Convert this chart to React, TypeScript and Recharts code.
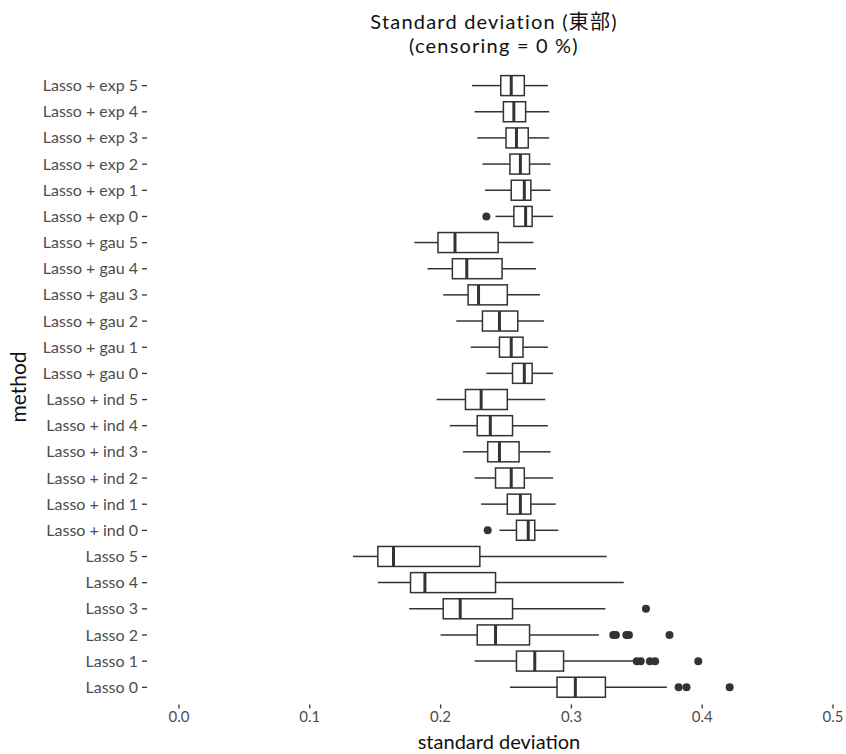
import { ComposedChart, Bar, Scatter, XAxis, YAxis } from 'recharts'

const methods = [
  'Lasso + exp 5', 'Lasso + exp 4', 'Lasso + exp 3', 'Lasso + exp 2', 'Lasso + exp 1', 'Lasso + exp 0',
  'Lasso + gau 5', 'Lasso + gau 4', 'Lasso + gau 3', 'Lasso + gau 2', 'Lasso + gau 1', 'Lasso + gau 0',
  'Lasso + ind 5', 'Lasso + ind 4', 'Lasso + ind 3', 'Lasso + ind 2', 'Lasso + ind 1', 'Lasso + ind 0',
  'Lasso 5', 'Lasso 4', 'Lasso 3', 'Lasso 2', 'Lasso 1', 'Lasso 0',
]

const lows = [
  0.224, 0.226, 0.228, 0.232, 0.234, 0.242,
  0.180, 0.190, 0.202, 0.212, 0.223, 0.235,
  0.197, 0.207, 0.217, 0.226, 0.231, 0.245,
  0.133, 0.152, 0.176, 0.200, 0.226, 0.253,
]
const q1s = [
  0.246, 0.248, 0.250, 0.253, 0.254, 0.256,
  0.198, 0.209, 0.221, 0.232, 0.245, 0.255,
  0.219, 0.228, 0.236, 0.242, 0.251, 0.258,
  0.152, 0.177, 0.202, 0.228, 0.258, 0.289,
]
const medians = [
  0.254, 0.256, 0.258, 0.261, 0.264, 0.265,
  0.211, 0.220, 0.229, 0.245, 0.254, 0.264,
  0.231, 0.238, 0.245, 0.254, 0.261, 0.267,
  0.164, 0.188, 0.215, 0.242, 0.272, 0.303,
]
const q3s = [
  0.264, 0.265, 0.267, 0.268, 0.269, 0.270,
  0.244, 0.247, 0.251, 0.259, 0.263, 0.270,
  0.251, 0.255, 0.260, 0.264, 0.269, 0.272,
  0.230, 0.242, 0.255, 0.268, 0.294, 0.326,
]
const highs = [
  0.282, 0.283, 0.283, 0.284, 0.284, 0.286,
  0.271, 0.273, 0.276, 0.279, 0.282, 0.286,
  0.280, 0.282, 0.284, 0.286, 0.288, 0.290,
  0.327, 0.340, 0.326, 0.321, 0.348, 0.373,
]
const outliers: number[][] = [
  [], [], [], [], [], [0.235],
  [], [], [], [], [], [],
  [], [], [], [], [], [0.236],
  [], [], [0.357], [0.332, 0.334, 0.342, 0.344, 0.375], [0.350, 0.353, 0.360, 0.364, 0.397], [0.382, 0.388, 0.421],
]
const xTicks = [0, 0.1, 0.2, 0.3, 0.4, 0.5]

const data = methods.map((method, i) => ({
  method,
  lo: lows[i],
  q1: q1s[i],
  med: medians[i],
  q3: q3s[i],
  hi: highs[i],
  out: outliers[i],
}))

const FONT = "Lato, 'Noto Sans CJK JP', sans-serif"
const INK = '#333333'

const BoxShape = (props: any) => {
  const { x, y, width, height, payload } = props
  if (!payload || !isFinite(x)) return <g />
  const { lo, hi, q1, med, q3 } = payload
  // map values with the bar's own pixel extent (lo -> x, hi -> x + width)
  const px = (v: number) => x + ((v - lo) / (hi - lo)) * width
  const cy = y + height / 2
  return (
    <g>
      <line x1={px(lo)} x2={px(q1)} y1={cy} y2={cy} stroke={INK} strokeWidth={1.5} />
      <line x1={px(q3)} x2={px(hi)} y1={cy} y2={cy} stroke={INK} strokeWidth={1.5} />
      <rect x={px(q1)} y={y} width={px(q3) - px(q1)} height={height} fill="#fff" stroke={INK} strokeWidth={1.5} />
      <line x1={px(med)} x2={px(med)} y1={y} y2={y + height} stroke={INK} strokeWidth={3} />
    </g>
  )
}

const Dot = (props: any) => {
  const { cx, cy } = props
  if (cx == null || cy == null || !isFinite(cx)) return <g />
  return <circle cx={cx} cy={cy} r={4} fill={INK} />
}

const YTick = (props: any) => {
  const { x, y, payload } = props
  return (
    <g>
      <text x={x - 33} y={y} dy={5.5} textAnchor="end" fill="#4d4d4d" fontSize={16} fontFamily={FONT}>
        {payload.value}
      </text>
      <line x1={x - 29} x2={x - 24} y1={y} y2={y} stroke={INK} strokeWidth={1.3} />
    </g>
  )
}

const XTick = (props: any) => {
  const { x, y, payload } = props
  return (
    <g>
      <line x1={x} x2={x} y1={y - 4} y2={y} stroke={INK} strokeWidth={1.3} />
      <text x={x} y={y} dy={14} textAnchor="middle" fill="#4d4d4d" fontSize={15} fontFamily={FONT}>
        {payload.value.toFixed(1)}
      </text>
    </g>
  )
}

const titleLine = { position: 'absolute' as const, left: 244, width: 500, textAlign: 'center' as const, fontSize: 20, lineHeight: '24px', letterSpacing: 1.2, color: '#111', whiteSpace: 'nowrap' as const }

export default function App() {
  return (
    <div style={{ position: 'absolute', left: 0, top: 0, width: 846, height: 754, background: '#fff', fontFamily: FONT }}>
      <div style={{ ...titleLine, top: 9 }}>Standard deviation (東部)</div>
      <div style={{ ...titleLine, top: 33 }}>(censoring = 0 %)</div>
      <div style={{ position: 'absolute', left: 18, top: 387, transform: 'translate(-50%, -50%) rotate(-90deg)', fontSize: 21, lineHeight: '24px', color: '#111', whiteSpace: 'nowrap' }}>
        method
      </div>
      <div style={{ position: 'absolute', left: 249, top: 729, width: 500, textAlign: 'center', fontSize: 20, lineHeight: '24px', color: '#111' }}>
        standard deviation
      </div>
      <ComposedChart
        width={846}
        height={754}
        data={data}
        layout="vertical"
        margin={{ top: 72.6, right: 13, bottom: 0, left: 0 }}
      >
        <XAxis
          type="number"
          domain={[0, 0.5]}
          ticks={xTicks}
          axisLine={false}
          tickLine={false}
          tickSize={6}
          tickMargin={2}
          tick={<XTick />}
          height={53.6}
          allowDataOverflow
        />
        <YAxis
          type="category"
          dataKey="method"
          width={179}
          axisLine={false}
          tickLine={false}
          tickSize={6}
          tickMargin={2}
          tick={<YTick />}
          interval={0}
        />
        <Bar dataKey={(r: any) => [r.lo, r.hi]} barSize={20} shape={<BoxShape />} isAnimationActive={false} />
        {[0, 1, 2, 3, 4].map((k) => (
          <Scatter
            key={k}
            dataKey={(r: any) => r.out[k]}
            shape={<Dot />}
            isAnimationActive={false}
          />
        ))}
      </ComposedChart>
    </div>
  )
}
